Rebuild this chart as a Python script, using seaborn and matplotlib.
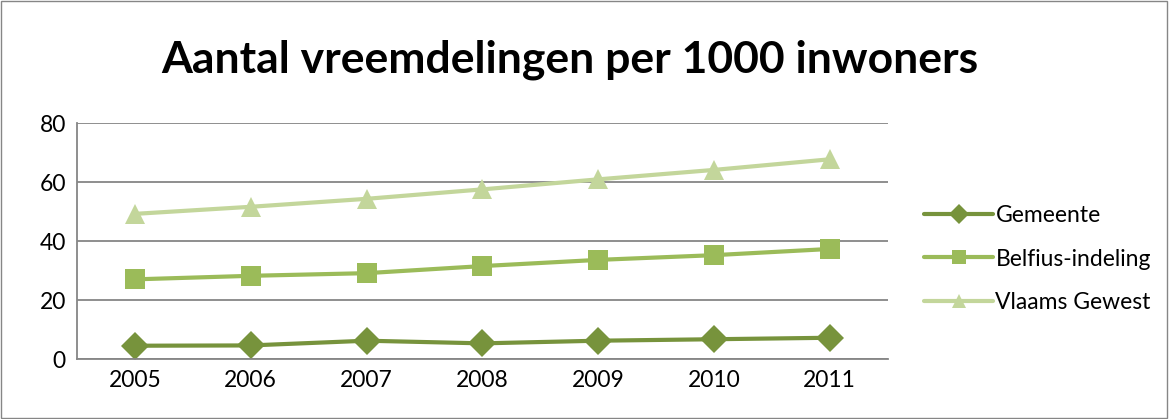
import pandas as pd
import numpy as np
import seaborn as sns
import matplotlib.pyplot as plt
from matplotlib.patches import Rectangle

years = ["2005", "2006", "2007", "2008", "2009", "2010", "2011"]
gemeente = [4.6, 4.7, 6.3, 5.4, 6.3, 6.8, 7.3]
belfius = [27.1, 28.3, 29.2, 31.6, 33.7, 35.3, 37.4]
vlaams = [49.3, 51.7, 54.4, 57.6, 61.0, 64.2, 67.8]
series = ["Gemeente", "Belfius-indeling", "Vlaams Gewest"]
colors = ["#77933C", "#9BBB59", "#C3D69B"]

df = pd.DataFrame({
    "idx": list(range(len(years))) * 3,
    "waarde": gemeente + belfius + vlaams,
    "reeks": [s for s in series for _ in years],
})

sns.set_style("white")
plt.rcParams["font.family"] = ["Lato", "DejaVu Sans"]
plt.rcParams["text.color"] = "black"

fig = plt.figure(figsize=(11.71, 4.19), dpi=100)
ax = fig.add_axes([0.0658, 0.1425, 0.6922, 0.5632])

sns.lineplot(data=df, x="idx", y="waarde", hue="reeks", style="reeks",
             palette=colors, markers=["D", "s", "^"], dashes=False,
             linewidth=3, markersize=14, markeredgewidth=0, ax=ax)

ax.set_xlim(-0.5, 6.5)
ax.set_ylim(0, 80)
ax.set_yticks([0, 20, 40, 60, 80])
ax.set_xticks(range(len(years)))
ax.set_xticklabels(years)
ax.tick_params(axis="both", labelsize=16.5, length=0, pad=8, labelcolor="black")
ax.set_xlabel("")
ax.set_ylabel("")
ax.yaxis.grid(True, color="#868686", linewidth=1.3)
for side in ["top", "right"]:
    ax.spines[side].set_visible(False)
for side in ["left", "bottom"]:
    ax.spines[side].set_color("#868686")
    ax.spines[side].set_linewidth(1.3)

fig.text(0.487, 0.857, "Aantal vreemdelingen per 1000 inwoners",
         ha="center", va="center", fontsize=32, fontweight="bold", color="black")

handles, labels = ax.get_legend_handles_labels()
ax.legend(handles, labels, loc="center left", bbox_to_anchor=(1.02, 0.425),
          frameon=False, fontsize=16.5, handlelength=3.0, handletextpad=0.1,
          labelspacing=1.0, markerscale=0.75, labelcolor="black")

fig.patches.append(Rectangle((0.001, 0.002), 0.996, 0.995, transform=fig.transFigure,
                             fill=False, edgecolor="#868686", linewidth=1))

fig.savefig("out.png", dpi=100)
